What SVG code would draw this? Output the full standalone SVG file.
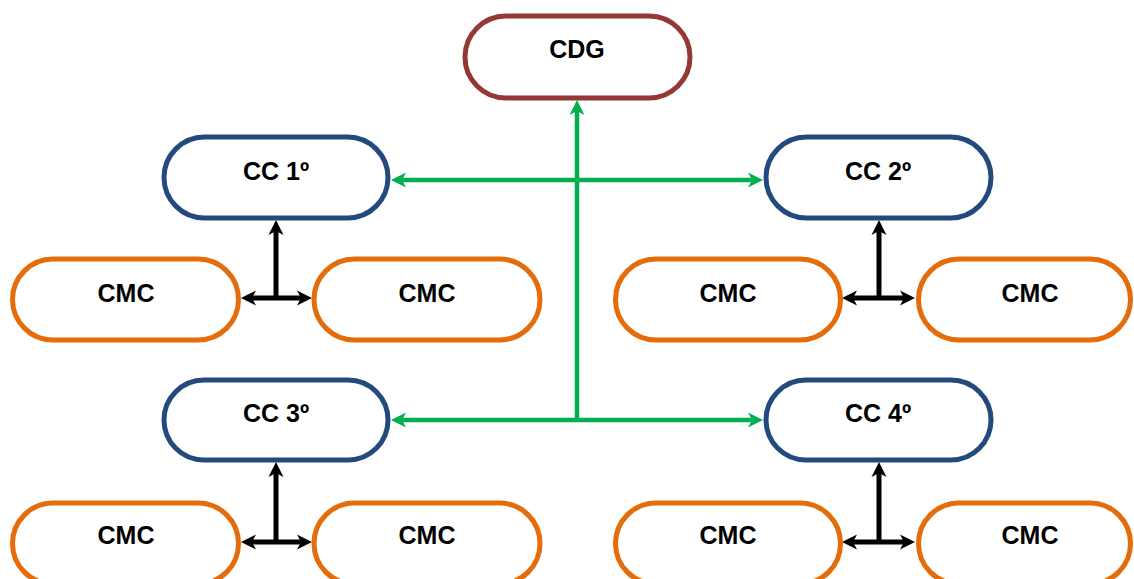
<svg xmlns="http://www.w3.org/2000/svg" width="1134" height="579" viewBox="0 0 1134 579">
<style>
.n{fill:#fff;stroke-width:5}
.cdg{stroke:#953735}
.cc{stroke:#234A7D}
.cmc{stroke:#E46C0A}
.t{font-family:"Liberation Sans",Arial,sans-serif;font-weight:bold;font-size:25px;fill:#000;text-anchor:middle}
.g{stroke:#00B050;stroke-width:4.5;fill:none}
.k{stroke:#000;stroke-width:5;fill:none}
</style>
<defs>
<marker id="ag" viewBox="-16 -8 17 16" refX="-8" refY="0" markerWidth="17" markerHeight="16" markerUnits="userSpaceOnUse" orient="auto-start-reverse">
<path d="M0,0 L-15,-7.5 L-11,0 L-15,7.5 Z" fill="#00B050"/>
</marker>
<marker id="ak" viewBox="-16 -8 17 16" refX="-8" refY="0" markerWidth="17" markerHeight="16" markerUnits="userSpaceOnUse" orient="auto-start-reverse">
<path d="M0,0 L-15,-7.5 L-11,0 L-15,7.5 Z" fill="#000"/>
</marker>
</defs>
<rect width="1134" height="579" fill="#fff"/>
<g id="connectors">
<line class="g" x1="577" y1="420" x2="577" y2="108" marker-end="url(#ag)"/>
<line class="g" x1="399" y1="180" x2="755" y2="180" marker-start="url(#ag)" marker-end="url(#ag)"/>
<line class="g" x1="399" y1="420" x2="755" y2="420" marker-start="url(#ag)" marker-end="url(#ag)"/>
<line class="k" x1="276" y1="300" x2="276" y2="228" marker-end="url(#ak)"/>
<line class="k" x1="249" y1="298" x2="304" y2="298" marker-start="url(#ak)" marker-end="url(#ak)"/>
<line class="k" x1="879" y1="300" x2="879" y2="228" marker-end="url(#ak)"/>
<line class="k" x1="850" y1="298" x2="907" y2="298" marker-start="url(#ak)" marker-end="url(#ak)"/>
<line class="k" x1="276" y1="544" x2="276" y2="470" marker-end="url(#ak)"/>
<line class="k" x1="249" y1="542" x2="304" y2="542" marker-start="url(#ak)" marker-end="url(#ak)"/>
<line class="k" x1="879" y1="544" x2="879" y2="470" marker-end="url(#ak)"/>
<line class="k" x1="850" y1="542" x2="907" y2="542" marker-start="url(#ak)" marker-end="url(#ak)"/>
</g>
<g id="cdg"><rect class="n cdg" x="465" y="16" width="225" height="82" rx="41"/><text class="t" x="577" y="58">CDG</text></g>
<g id="cc1"><rect class="n cc" x="164" y="137" width="224" height="81" rx="40.5"/><text class="t" x="276" y="180">CC 1º</text></g>
<g id="cc2"><rect class="n cc" x="766" y="137" width="225" height="81" rx="40.5"/><text class="t" x="878" y="180">CC 2º</text></g>
<g id="cc3"><rect class="n cc" x="164" y="380" width="224" height="80" rx="40"/><text class="t" x="276" y="422">CC 3º</text></g>
<g id="cc4"><rect class="n cc" x="766" y="380" width="225" height="80" rx="40"/><text class="t" x="878" y="422">CC 4º</text></g>
<g id="cmc1"><rect class="n cmc" x="12.5" y="259" width="226" height="81" rx="40.5"/><text class="t" x="126" y="302">CMC</text></g>
<g id="cmc2"><rect class="n cmc" x="314" y="259" width="226" height="81" rx="40.5"/><text class="t" x="427" y="302">CMC</text></g>
<g id="cmc3"><rect class="n cmc" x="615.5" y="259" width="225" height="81" rx="40.5"/><text class="t" x="728" y="302">CMC</text></g>
<g id="cmc4"><rect class="n cmc" x="918.5" y="259" width="212" height="81" rx="40.5"/><text class="t" x="1030" y="302">CMC</text></g>
<g id="cmc5"><rect class="n cmc" x="12.5" y="503" width="226" height="81" rx="40.5"/><text class="t" x="126" y="544">CMC</text></g>
<g id="cmc6"><rect class="n cmc" x="314" y="503" width="226" height="81" rx="40.5"/><text class="t" x="427" y="544">CMC</text></g>
<g id="cmc7"><rect class="n cmc" x="615.5" y="503" width="225" height="81" rx="40.5"/><text class="t" x="728" y="544">CMC</text></g>
<g id="cmc8"><rect class="n cmc" x="918.5" y="503" width="212" height="81" rx="40.5"/><text class="t" x="1030" y="544">CMC</text></g>
</svg>
